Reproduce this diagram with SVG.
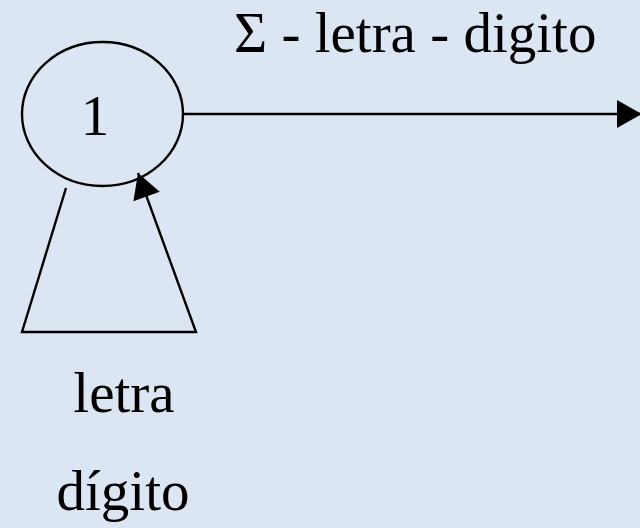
<svg xmlns="http://www.w3.org/2000/svg" width="640" height="528" viewBox="0 0 640 528">
<style>
.ln{fill:none;stroke:#000;stroke-width:2.4}
.t{font-family:"Liberation Serif","Times New Roman",serif;font-size:57px;fill:#000}
</style>
<defs>
<marker id="ah" markerUnits="userSpaceOnUse" markerWidth="26" markerHeight="28" refX="25" refY="14" orient="auto" overflow="visible">
<path d="M0,0 L25,14 L0,28 z" fill="#000"/>
</marker>
</defs>
<rect width="640" height="528" fill="#dce6f2"/>
<g id="node1">
<ellipse cx="102.5" cy="114" rx="80.5" ry="72" class="ln"/>
<text x="95" y="135" class="t" text-anchor="middle">1</text>
</g>
<g id="connectors">
<path d="M183,114 L642,114" class="ln" marker-end="url(#ah)"/>
<path d="M66,188 L22,332 L196,332 L138,173" class="ln" marker-end="url(#ah)"/>
</g>
<g id="labels">
<text x="234" y="52" class="t" font-size="58">Σ - letra - digito</text>
<text x="124" y="412" class="t" text-anchor="middle">letra</text>
<text x="123" y="510" class="t" text-anchor="middle">dígito</text>
</g>
</svg>
